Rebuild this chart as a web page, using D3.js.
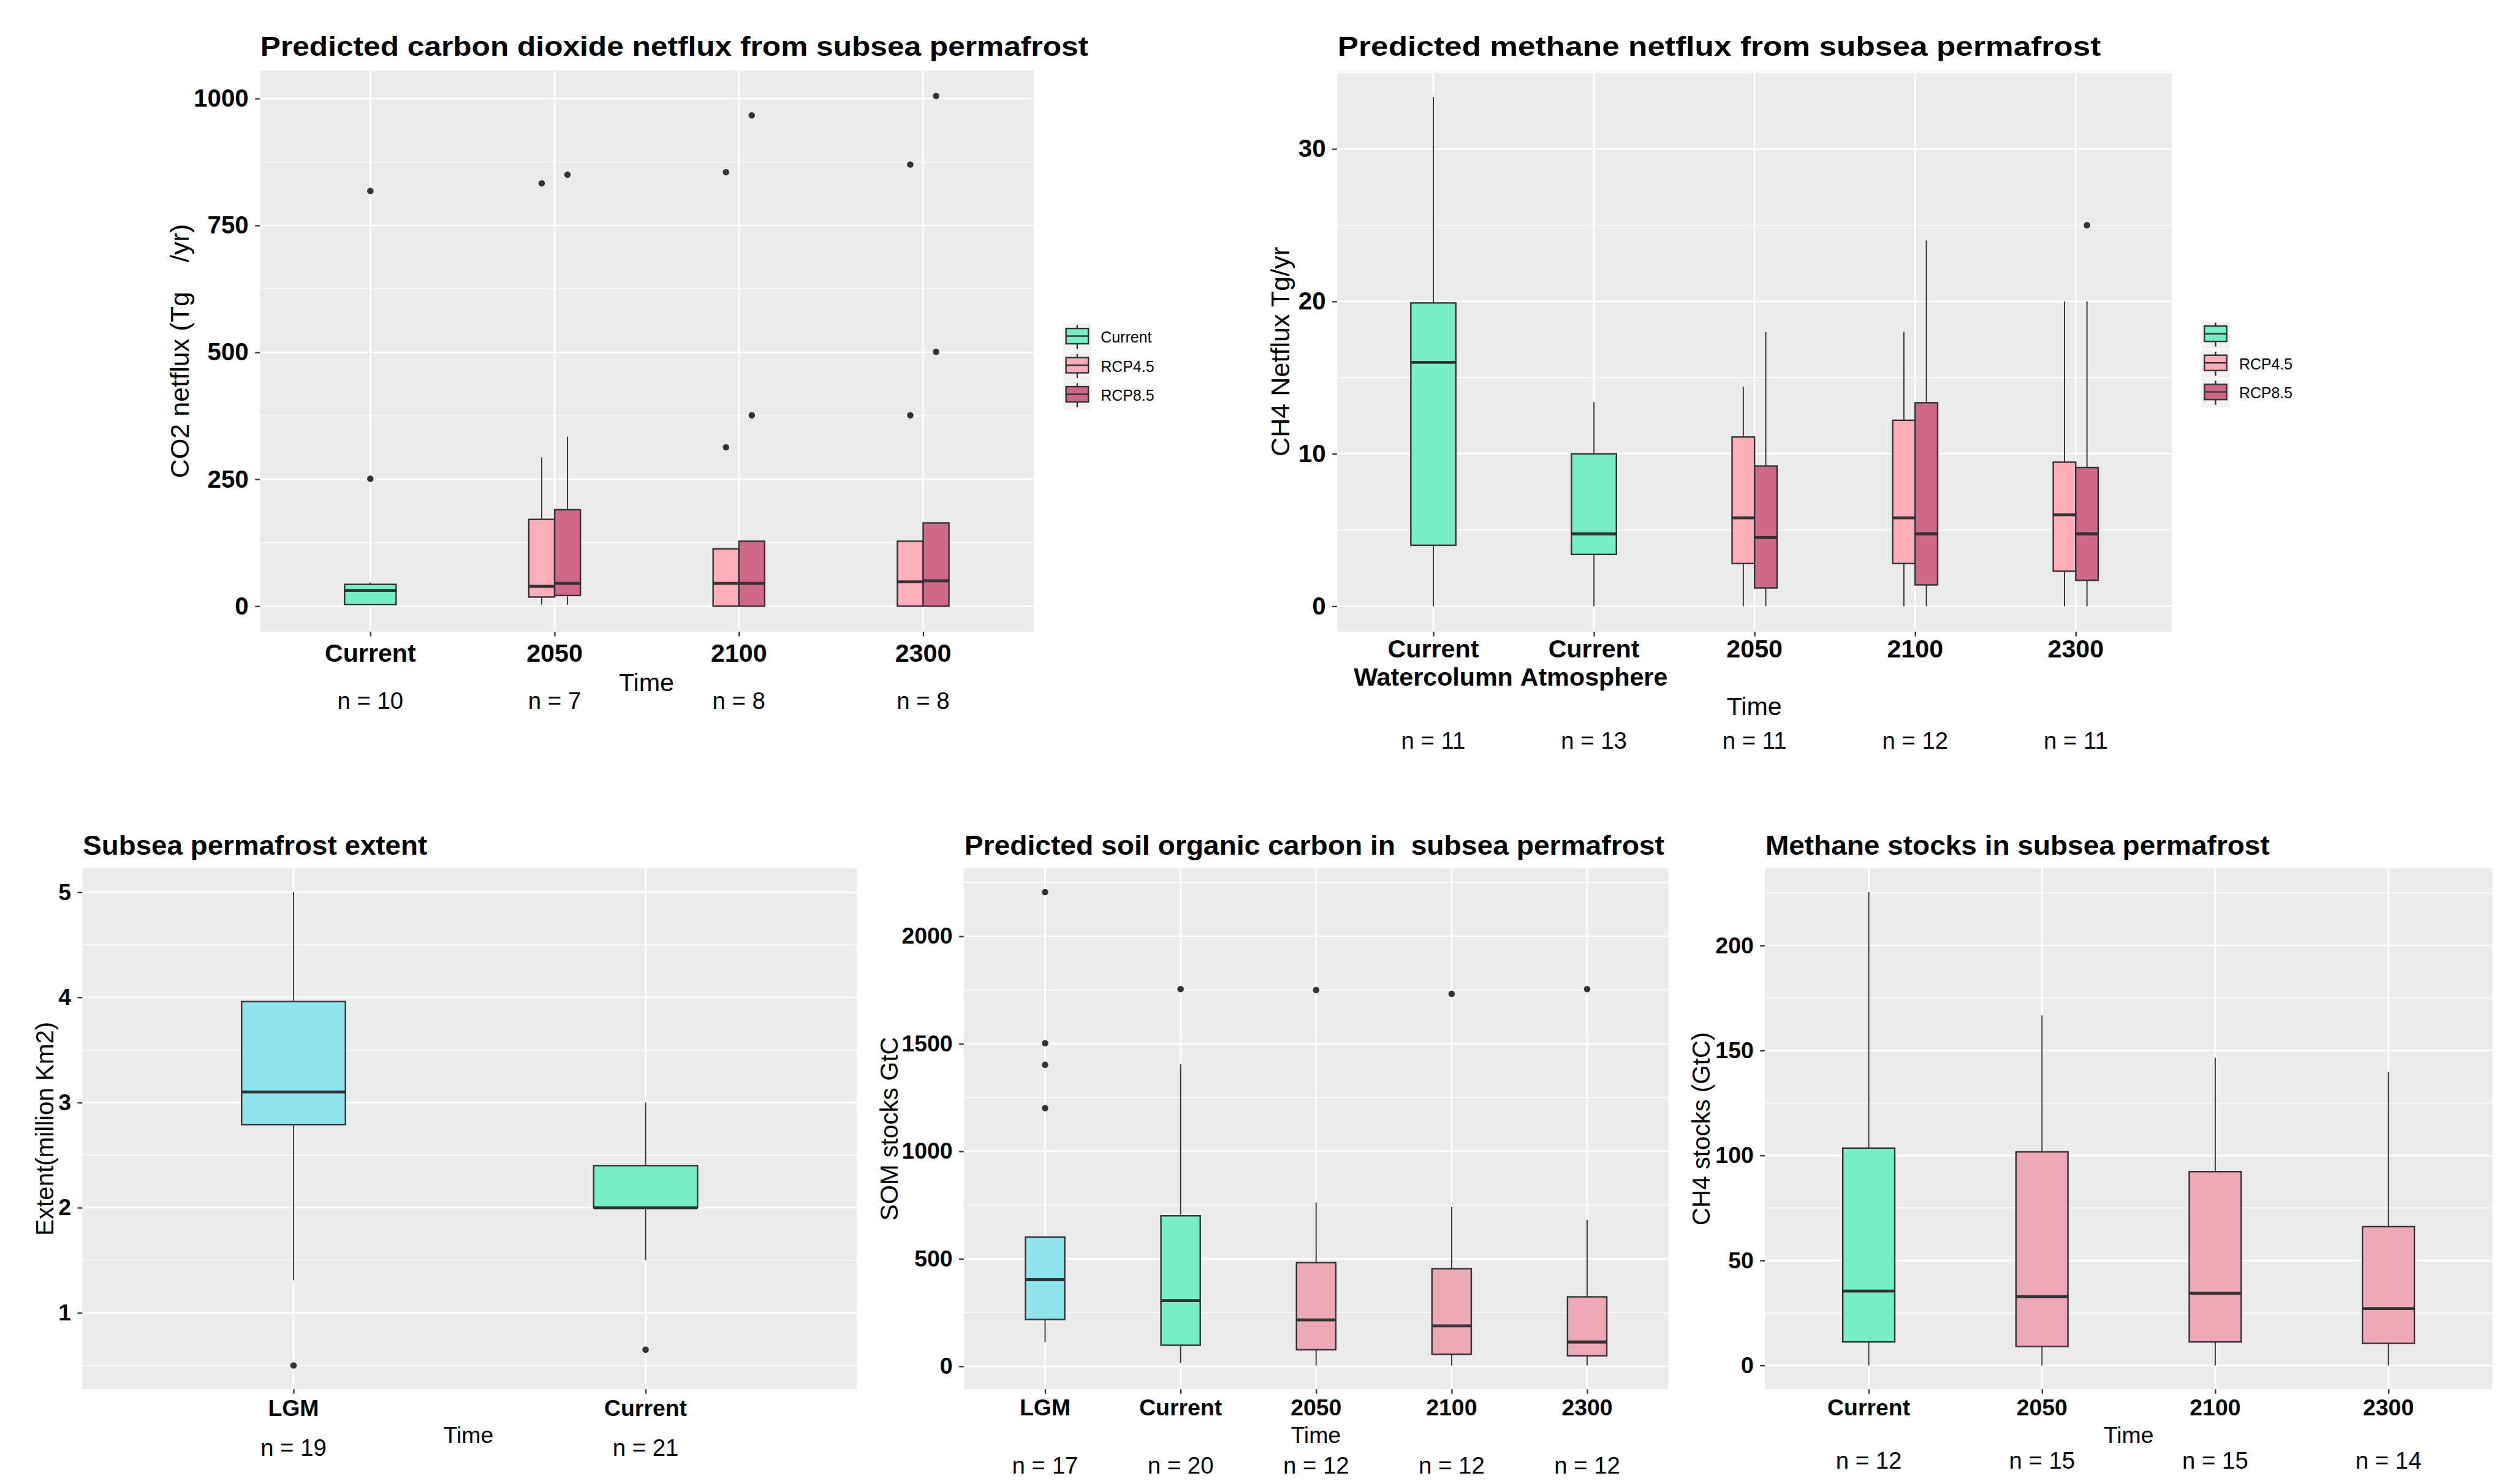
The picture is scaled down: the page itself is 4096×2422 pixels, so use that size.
<!DOCTYPE html>
<html>
<head>
<meta charset="utf-8">
<script src="https://cdn.jsdelivr.net/npm/d3@7"></script>
<style>
  body { margin: 0; background: #fff; }
  text { font-family: "Liberation Sans", Arial, sans-serif; }
</style>
</head>
<body>
<svg id="fig"></svg>
<script>
// ---- data (box stats) ----
// rows: [time, group, lowerWhisker, q1, median, q3, upperWhisker, outliers]
const co2Times = ["Current", "2050", "2100", "2300"];
const co2N = ["n = 10", "n = 7", "n = 8", "n = 8"];
const co2Ticks = [0, 250, 500, 750, 1000];
const co2Legend = ["Current", "RCP4.5", "RCP8.5"];
const co2Boxes = [
    ["Current", "Current", 2, 3, 31, 43, 47, [818, 251]],
    ["2050", "RCP4.5", 3, 18, 39, 171, 293, [833]],
    ["2050", "RCP8.5", 3, 21, 45, 190, 334, [850]],
    ["2100", "RCP4.5", 0, 0, 45, 113, 113, [855, 313]],
    ["2100", "RCP8.5", 0, 0, 45, 128, 128, [967, 376]],
    ["2300", "RCP4.5", 0, 0, 48, 128, 128, [870, 376]],
    ["2300", "RCP8.5", 0, 0, 50, 164, 164, [1005, 501]]
];

const ch4Times = ["Current Watercolumn", "Current Atmosphere", "2050", "2100", "2300"];
const ch4Labels = [["Current", "Watercolumn"], ["Current", "Atmosphere"], ["2050"], ["2100"], ["2300"]];
const ch4N = ["n = 11", "n = 13", "n = 11", "n = 12", "n = 11"];
const ch4Ticks = [0, 10, 20, 30];
const ch4Legend = ["", "RCP4.5", "RCP8.5"];
const ch4Boxes = [
    ["Current Watercolumn", "Current", 0, 4.0, 16.0, 19.9, 33.4, []],
    ["Current Atmosphere", "Current", 0, 3.4, 4.75, 10.0, 13.4, []],
    ["2050", "RCP4.5", 0, 2.8, 5.8, 11.1, 14.4, []],
    ["2050", "RCP8.5", 0, 1.2, 4.5, 9.2, 18.0, []],
    ["2100", "RCP4.5", 0, 2.8, 5.8, 12.2, 18.0, []],
    ["2100", "RCP8.5", 0, 1.4, 4.75, 13.35, 24.0, []],
    ["2300", "RCP4.5", 0, 2.3, 6.0, 9.45, 20.0, []],
    ["2300", "RCP8.5", 0, 1.7, 4.75, 9.1, 20.0, [25.0]]
];

const extTimes = ["LGM", "Current"];
const extN = ["n = 19", "n = 21"];
const extTicks = [1, 2, 3, 4, 5];
const extBoxes = [
    ["LGM", "LGM", 1.31, 2.79, 3.10, 3.96, 5.0, [0.5]],
    ["Current", "Current", 1.5, 2.0, 2.0, 2.4, 3.0, [0.65]]
];

const somTimes = ["LGM", "Current", "2050", "2100", "2300"];
const somN = ["n = 17", "n = 20", "n = 12", "n = 12", "n = 12"];
const somTicks = [0, 500, 1000, 1500, 2000];
const somBoxes = [
    ["LGM", "LGM", 113, 218, 403, 601, 601, [2205, 1503, 1402, 1201]],
    ["Current", "Current", 15, 98, 306, 700, 1405, [1754]],
    ["2050", "Future", 4, 77, 216, 482, 762, [1750]],
    ["2100", "Future", 4, 56, 188, 454, 741, [1732]],
    ["2300", "Future", 4, 49, 113, 323, 681, [1754]]
];

const stockTimes = ["Current", "2050", "2100", "2300"];
const stockN = ["n = 12", "n = 15", "n = 15", "n = 14"];
const stockTicks = [0, 50, 100, 150, 200];
const stockBoxes = [
    ["Current", "Current", 0, 11.2, 35.4, 103.5, 225.4, []],
    ["2050", "Future", 0, 9.0, 32.8, 101.7, 166.7, []],
    ["2100", "Future", 0, 11.2, 34.4, 92.3, 146.6, []],
    ["2300", "Future", 0, 10.5, 27.1, 66.1, 139.6, []]
];

const fills = {
    "Current": "#76EEC6",
    "LGM": "#8EE5EE",
    "RCP4.5": "#FFAEB9",
    "RCP8.5": "#CD6889",
    "Future": "#EEA9B8"
};

// ---- layout (in reference pixels, scaled down as a whole) ----
const topFont = { tickY: 42, tickX: 43, yTitle: 45, time: 43, n: 40 };
const bottomFont = { tickY: 39, tickX: 39, yTitle: 42, time: 39, n: 40 };

const panels = [
    { title: "Predicted carbon dioxide netflux from subsea permafrost", titleW: 1409, titleY: 95,
      x0: 442, x1: 1759, y0: 120, y1: 1075, cats: co2Times, labels: co2Times.map(d => [d]),
      ticks: co2Ticks, boxes: co2Boxes, n: co2N, bw: 0.28, font: topFont,
      yTitle: "CO2 netflux (Tg    /yr)", yTitleX: 321, labY: 1126, timeX: 1100, timeY: 1176, nY: 1206,
      legend: { x: 1809, y: 550, names: co2Legend } },
    { title: "Predicted methane netflux from subsea permafrost", titleW: 1299, titleY: 95,
      x0: 2275, x1: 3696, y0: 122, y1: 1075, cats: ch4Times, labels: ch4Labels,
      ticks: ch4Ticks, boxes: ch4Boxes, n: ch4N, bw: 0.28, font: topFont,
      yTitle: "CH4 Netflux Tg/yr", yTitleX: 2194, labY: 1119, timeX: 2985, timeY: 1217, nY: 1274,
      legend: { x: 3746, y: 546, names: ch4Legend } },
    { title: "Subsea permafrost extent", titleW: 586, titleY: 1455,
      x0: 140, x1: 1458, y0: 1478, y1: 2364, cats: extTimes, labels: extTimes.map(d => [d]),
      ticks: extTicks, boxes: extBoxes, n: extN, bw: 0.295, font: bottomFont,
      yTitle: "Extent(million Km2)", yTitleX: 91, labY: 2410, timeX: 797, timeY: 2456, nY: 2477 },
    { title: "Predicted soil organic carbon in  subsea permafrost", titleW: 1191, titleY: 1455,
      x0: 1640, x1: 2839, y0: 1478, y1: 2364, cats: somTimes, labels: somTimes.map(d => [d]),
      ticks: somTicks, boxes: somBoxes, n: somN, bw: 0.29, font: bottomFont,
      yTitle: "SOM stocks GtC", yTitleX: 1528, labY: 2409, timeX: 2239, timeY: 2456, nY: 2508 },
    { title: "Methane stocks in subsea permafrost", titleW: 858, titleY: 1455,
      x0: 3003, x1: 4241, y0: 1478, y1: 2364, cats: stockTimes, labels: stockTimes.map(d => [d]),
      ticks: stockTicks, boxes: stockBoxes, n: stockN, bw: 0.30, font: bottomFont,
      yTitle: "CH4 stocks (GtC)", yTitleX: 2909, labY: 2409, timeX: 3622, timeY: 2456, nY: 2499 }
];

const svg = d3.select("#fig").attr("width", 4096).attr("height", 2422);
svg.append("rect").attr("width", 4096).attr("height", 2422).attr("fill", "#fff");
const root = svg.append("g").attr("transform", `scale(${4096 / 4271})`);

function drawPanel(p) {
    const g = root.append("g");
    const x = d3.scalePoint().domain(p.cats).range([p.x0, p.x1]).padding(0.6);
    const vals = p.boxes.flatMap(b => [b[2], b[6], ...b[7]]);
    const lo = d3.min(vals), hi = d3.max(vals), pad = (hi - lo) * 0.05;
    const y = d3.scaleLinear().domain([lo - pad, hi + pad]).range([p.y1, p.y0]);
    const [d0, d1] = y.domain();

    // panel background + grid
    g.append("rect").attr("x", p.x0).attr("y", p.y0)
        .attr("width", p.x1 - p.x0).attr("height", p.y1 - p.y0).attr("fill", "#EBEBEB");

    const step = p.ticks[1] - p.ticks[0];
    const minor = d3.range(p.ticks[0] - step / 2, p.ticks[p.ticks.length - 1] + step, step)
        .filter(v => v >= d0 && v <= d1);
    g.selectAll(".minor").data(minor).join("line")
        .attr("x1", p.x0).attr("x2", p.x1)
        .attr("y1", d => y(d)).attr("y2", d => y(d))
        .attr("stroke", "#fff").attr("stroke-width", 1.4);
    g.selectAll(".major").data(p.ticks).join("line")
        .attr("x1", p.x0).attr("x2", p.x1)
        .attr("y1", d => y(d)).attr("y2", d => y(d))
        .attr("stroke", "#fff").attr("stroke-width", 2.8);
    g.selectAll(".vgrid").data(p.cats).join("line")
        .attr("x1", d => x(d)).attr("x2", d => x(d))
        .attr("y1", p.y0).attr("y2", p.y1)
        .attr("stroke", "#fff").attr("stroke-width", 2.8);

    // boxes (dodged within a category when there are two)
    const byCat = d3.group(p.boxes, b => b[0]);
    const full = p.bw * x.step();
    const boxes = p.boxes.map(b => {
        const grp = byCat.get(b[0]);
        const w = full / grp.length;
        const cx = x(b[0]) - full / 2 + w * (grp.indexOf(b) + 0.5);
        return { cx, w, grp: b[1], lo: b[2], q1: b[3], med: b[4], q3: b[5], hi: b[6], out: b[7] };
    });

    const bg = g.selectAll(".box").data(boxes).join("g");
    bg.append("line").attr("x1", d => d.cx).attr("x2", d => d.cx)
        .attr("y1", d => y(d.hi)).attr("y2", d => y(d.q3))
        .attr("stroke", "#333").attr("stroke-width", 2);
    bg.append("line").attr("x1", d => d.cx).attr("x2", d => d.cx)
        .attr("y1", d => y(d.q1)).attr("y2", d => y(d.lo))
        .attr("stroke", "#333").attr("stroke-width", 2);
    bg.append("rect")
        .attr("x", d => d.cx - d.w / 2).attr("width", d => d.w)
        .attr("y", d => y(d.q3)).attr("height", d => Math.max(0.5, y(d.q1) - y(d.q3)))
        .attr("fill", d => fills[d.grp]).attr("stroke", "#333").attr("stroke-width", 2.5);
    bg.append("line")
        .attr("x1", d => d.cx - d.w / 2).attr("x2", d => d.cx + d.w / 2)
        .attr("y1", d => y(d.med)).attr("y2", d => y(d.med))
        .attr("stroke", "#333").attr("stroke-width", 5);
    bg.selectAll("circle").data(d => d.out.map(v => ({ cx: d.cx, v }))).join("circle")
        .attr("cx", d => d.cx).attr("cy", d => y(d.v)).attr("r", 5.5).attr("fill", "#333");

    // axes
    const ya = g.append("g").attr("transform", `translate(${p.x0},0)`)
        .call(d3.axisLeft(y).tickValues(p.ticks).tickSize(8).tickPadding(11).tickFormat(d3.format("d")));
    ya.select(".domain").remove();
    ya.selectAll("line").attr("stroke", "#333").attr("stroke-width", 2.4);
    ya.selectAll("text").attr("font-size", p.font.tickY).attr("font-weight", "bold")
        .attr("fill", "#000").attr("font-family", "Liberation Sans, Arial, sans-serif");

    const xa = g.append("g").attr("transform", `translate(0,${p.y1})`)
        .call(d3.axisBottom(x).tickSize(8).tickFormat(""));
    xa.select(".domain").remove();
    xa.selectAll("line").attr("stroke", "#333").attr("stroke-width", 2.4);

    g.selectAll(".xlab").data(p.cats).join("text")
        .attr("x", d => x(d)).attr("y", p.labY)
        .attr("text-anchor", "middle").attr("font-weight", "bold")
        .attr("font-size", p.font.tickX).attr("fill", "#000")
        .selectAll("tspan").data((d, i) => p.labels[i]).join("tspan")
        .attr("x", function () { return this.parentNode.getAttribute("x"); })
        .attr("dy", (d, i) => i === 0 ? 0 : 48)
        .text(d => d);

    // titles and annotations
    g.append("text").attr("x", p.x0 + 1).attr("y", p.titleY)
        .attr("font-size", 47).attr("font-weight", "bold").attr("fill", "#000")
        .attr("textLength", p.titleW).attr("lengthAdjust", "spacingAndGlyphs")
        .style("white-space", "pre")
        .text(p.title);

    g.append("text")
        .attr("transform", `translate(${p.yTitleX},${(p.y0 + p.y1) / 2}) rotate(-90)`)
        .attr("text-anchor", "middle").attr("font-size", p.font.yTitle).attr("fill", "#000")
        .style("white-space", "pre")
        .text(p.yTitle);

    g.append("text").attr("x", p.timeX).attr("y", p.timeY)
        .attr("text-anchor", "middle").attr("font-size", p.font.time).attr("fill", "#000")
        .text("Time");

    g.selectAll(".nlab").data(p.n).join("text")
        .attr("x", (d, i) => x(p.cats[i])).attr("y", p.nY)
        .attr("text-anchor", "middle").attr("font-size", p.font.n)
        .attr("font-family", "Lato, 'Open Sans', sans-serif").attr("fill", "#000")
        .text(d => d);

    if (p.legend) drawLegend(p.legend);
}

function drawLegend(lg) {
    const keySize = 48, gap = 49.5;
    const keys = ["Current", "RCP4.5", "RCP8.5"];
    const items = root.append("g").selectAll("g").data(keys).join("g")
        .attr("transform", (d, i) => `translate(${lg.x},${lg.y + i * gap})`);
    items.append("rect").attr("width", keySize).attr("height", keySize).attr("fill", "#F2F2F2");
    items.append("line").attr("x1", keySize / 2).attr("x2", keySize / 2)
        .attr("y1", 3).attr("y2", keySize - 4).attr("stroke", "#333").attr("stroke-width", 2.5);
    items.append("rect").attr("x", 5).attr("y", 9).attr("width", keySize - 10).attr("height", 26)
        .attr("fill", d => fills[d]).attr("stroke", "#333").attr("stroke-width", 2.5);
    items.append("line").attr("x1", 5).attr("x2", keySize - 5).attr("y1", 22).attr("y2", 22)
        .attr("stroke", "#333").attr("stroke-width", 2.5);
    items.append("text").attr("x", keySize + 16).attr("y", keySize / 2).attr("dy", "0.35em")
        .attr("font-size", 26).attr("fill", "#000")
        .text((d, i) => lg.names[i]);
}

panels.forEach(drawPanel);
</script>
</body>
</html>
